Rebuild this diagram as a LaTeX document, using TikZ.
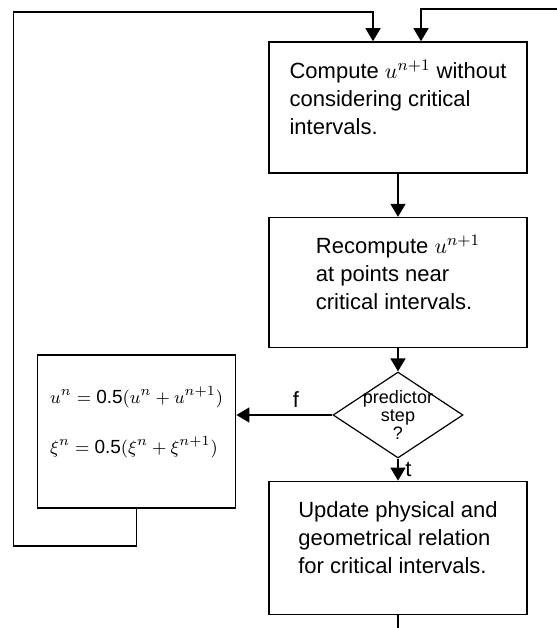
\documentclass[tikz,border=0pt]{standalone}
\usepackage{fontspec}
\setmainfont{Liberation Sans}
\usetikzlibrary{shapes.geometric, arrows.meta, positioning, calc}
\tikzset{
	blk/.style ={rectangle, draw=black, line width=0.8pt, minimum width=129pt, align=left, inner sep=2pt},
	cond/.style={diamond, aspect=1.5, draw=black, line width=0.6pt, minimum width=65pt, minimum height=43pt, inner sep=-3pt, align=center, font=\fontsize{9}{7.5}\selectfont},
	% connector styles
	sig/.style ={-{Triangle[length=6.5pt, width=7.5pt]}, line width=0.8pt},
	wire/.style={line width=0.8pt},
}
\begin{document}
\begin{tikzpicture}[font=\fontsize{11}{14}\selectfont, node distance=21.5pt]
	\useasboundingbox (0,0) rectangle (278.5pt,-314pt);
	\node[blk, minimum height=65.5pt] (cmp) at (199pt,-53.75pt) {Compute $u^{n+1}$ without\\ considering critical\\ intervals.\\[-4pt]};
	\node[blk, below=of cmp, minimum height=65pt] (rcp) {Recompute $u^{n+1}$\\ at points near\\ critical intervals.\\[-4pt]};
	\node[cond, below=11.5pt of rcp] (dec) {predictor\\ step\\ ?};
	\node[blk, below=11pt of dec, minimum height=66.5pt] (upd) {Update physical and\\ geometrical relation\\ for critical intervals.\\[-4pt]};
	\node[blk, left=48pt of dec, yshift=-8.25pt, minimum width=99pt, minimum height=76.5pt, font=\fontsize{9.5}{14}\selectfont] (avg) {$u^n = \mbox{0.5}(u^n + u^{n+1})$\\[11pt] $\xi^n = \mbox{0.5}(\xi^n + \xi^{n+1})$\\[-2.5pt]};
	\coordinate[above left=14.5pt and 12.5pt of cmp.north] (in1);
	\coordinate[above right=16pt and 11.5pt of cmp.north] (in2);
	\coordinate[right=68pt of in2] (src);
	\coordinate[below=9pt of upd.south] (out);
	\draw[sig] (cmp) -- (rcp);
	\draw[sig] (rcp) -- (dec);
	\draw[sig] (dec) -- node[right] {t} (upd);
	\draw[sig] (dec.west) -- node[pos=0.38, above] {f} (dec.west -| avg.east);
	\draw[sig] (avg.south) -- ++(0,-18.5pt) -- ++(-61.5pt,0) |- (in1) -- (in1 |- cmp.north);
	\draw[sig] (src) -- (in2) -- (in2 |- cmp.north);
	\draw[wire] (upd) -- (out);
\end{tikzpicture}
\end{document}
